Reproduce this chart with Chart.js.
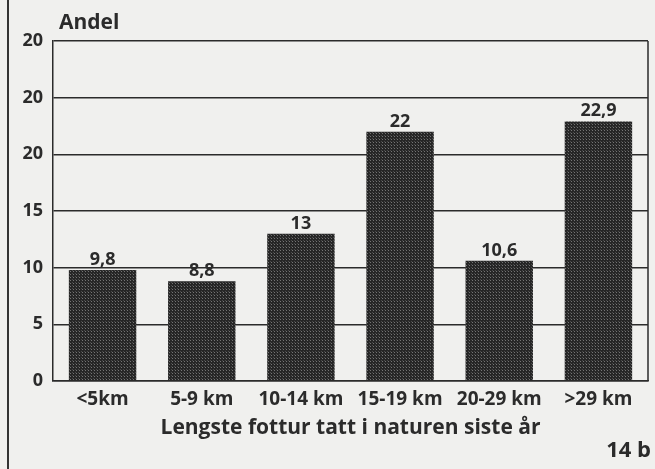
<!DOCTYPE html>
<html>
<head>
<meta charset="utf-8">
<script src="https://cdn.jsdelivr.net/npm/chart.js@4/dist/chart.umd.min.js"></script>
<style>
  html, body { margin: 0; padding: 0; background: #f0f0ee; }
  #wrap { width: 655px; height: 469px; position: relative; }
</style>
</head>
<body>
<div id="wrap"><canvas id="grafico" width="655" height="469"></canvas></div>
<script>
// data
const kategorier = ['<5km', '5-9 km', '10-14 km', '15-19 km', '20-29 km', '>29 km']
const andel = [9.8, 8.8, 13, 22, 10.6, 22.9]
const verdiTekst = ['9,8', '8,8', '13', '22', '10,6', '22,9']
// the printed y labels (top three all read "20" in the original)
const yTickTekst = ['0', '5', '10', '15', '20', '20', '20']

const FONT = "'Open Sans', 'Noto Sans', sans-serif"
const INK = '#2b2b2b'

// stippled bar fill
function lagMonster() {
  const c = document.createElement('canvas')
  c.width = 3
  c.height = 3
  const g = c.getContext('2d')
  g.fillStyle = '#262626'
  g.fillRect(0, 0, 3, 3)
  g.fillStyle = '#747474'
  g.fillRect(1, 1, 1, 1)
  g.fillStyle = '#4a4a4a'
  g.fillRect(0, 0, 1, 1)
  return g.createPattern(c, 'repeat')
}

// ── extra drawing: frame, value labels, texts ───────────────────────────────
const pynt = {
  id: 'pynt',
  beforeDraw(chart) {
    const { ctx } = chart
    ctx.save()
    ctx.fillStyle = '#f0f0ee'
    ctx.fillRect(0, 0, chart.width, chart.height)
    ctx.restore()
  },
  afterDraw(chart) {
    const { ctx, chartArea } = chart
    ctx.save()
    // page edge on the left
    ctx.fillStyle = '#333'
    ctx.fillRect(7, 0, 2, chart.height)
    // right side of the frame
    ctx.strokeStyle = INK
    ctx.lineWidth = 1.5
    ctx.beginPath()
    ctx.moveTo(chartArea.right, chartArea.top)
    ctx.lineTo(chartArea.right, chartArea.bottom)
    ctx.stroke()

    // values above bars
    ctx.fillStyle = INK
    ctx.font = `bold 18px ${FONT}`
    ctx.textAlign = 'center'
    ctx.textBaseline = 'alphabetic'
    chart.getDatasetMeta(0).data.forEach((bar, i) => {
      ctx.fillText(verdiTekst[i], bar.x, bar.y - 5)
    })

    ctx.font = `bold 21px ${FONT}`
    ctx.textAlign = 'left'
    ctx.textBaseline = 'middle'
    ctx.fillText('Andel', 59, 23)

    ctx.font = `bold 22px ${FONT}`
    ctx.textAlign = 'right'
    ctx.fillText('14 b', 651, 451)
    ctx.restore()
  },
}

new Chart(document.getElementById('grafico'), {
  type: 'bar',
  data: {
    labels: kategorier,
    datasets: [
      {
        data: andel,
        backgroundColor: lagMonster(),
        borderWidth: 0,
        categoryPercentage: 0.68,
        barPercentage: 1,
      },
    ],
  },
  options: {
    responsive: false,
    animation: false,
    devicePixelRatio: 1,
    layout: { padding: { left: 0, right: 7, top: 41, bottom: 0 } },
    plugins: {
      legend: { display: false },
      tooltip: { enabled: false },
    },
    scales: {
      x: {
        afterFit: (s) => { s.height = 88 },
        grid: { display: false, drawTicks: false },
        border: { color: INK, width: 1.5 },
        ticks: {
          color: INK,
          padding: 7,
          font: { family: FONT, weight: 'bold', size: 19 },
        },
        title: {
          display: true,
          text: 'Lengste fottur tatt i naturen siste år',
          color: INK,
          padding: { top: 2, bottom: 28 },
          font: { family: FONT, weight: 'bold', size: 21 },
        },
      },
      y: {
        min: 0,
        max: 30,
        afterFit: (s) => { s.width = 53 },
        grid: { color: INK, lineWidth: 1.5, drawTicks: false },
        border: { color: INK, width: 1.5 },
        ticks: {
          stepSize: 5,
          color: INK,
          padding: 10,
          font: { family: FONT, weight: 'bold', size: 18 },
          callback: (v, i) => yTickTekst[i],
        },
      },
    },
  },
  plugins: [pynt],
})
</script>
</body>
</html>
